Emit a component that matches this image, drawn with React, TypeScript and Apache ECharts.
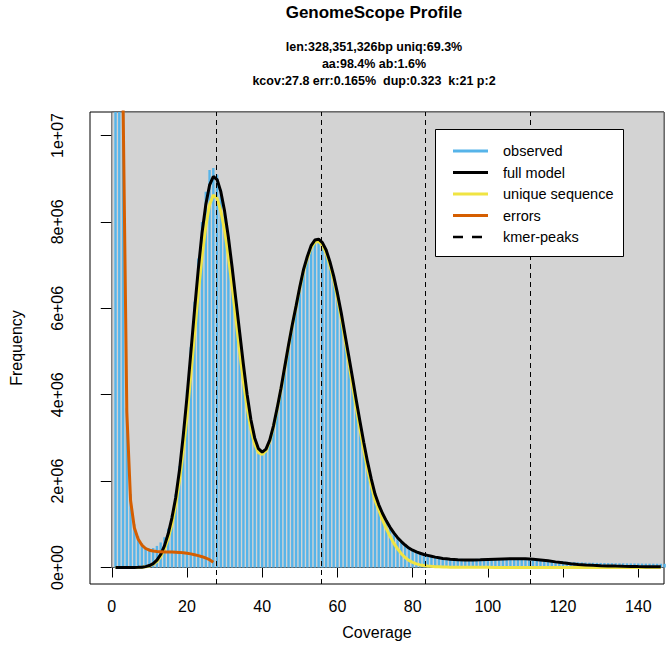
import React, { useEffect, useRef } from "react";
import * as echarts from "echarts";

const FONT = "'Liberation Sans', Arial, Helvetica, sans-serif";

// Axis ranges (data units) of the plot region
const X_MIN = -5.79;
const X_MAX = 146.84;
const Y_MIN = -381944;
const Y_MAX = 10543981;

const xTickValues = [0, 20, 40, 60, 80, 100, 120, 140];
const yTickValues = [0, 2000000, 4000000, 6000000, 8000000, 10000000];

const titleText = "GenomeScope Profile";
const subtitleLines = [
  "len:328,351,326bp uniq:69.3%",
  "aa:98.4% ab:1.6%",
  "kcov:27.8 err:0.165%  dup:0.323  k:21 p:2",
];

const legendLabels = ["observed", "full model", "unique sequence", "errors", "kmer-peaks"];
const legendColors = ["#56B4E9", "#000000", "#F0E442", "#D55E00", "#000000"];

// Observed k-mer histogram, coverage 1..147, frequency in millions
const observedFrequencyMillions = [
  200, 40, 11, 3.7, 1.7, 1.0, 0.72, 0.56, 0.47, 0.44,
  0.45, 0.5, 0.58, 0.7, 0.9, 1.22, 1.7, 2.35, 3.15, 4.1,
  5.1, 6.15, 7.15, 8.0, 8.7, 9.2, 9.25, 9.1, 8.75, 8.25,
  7.6, 6.9, 6.1, 5.35, 4.6, 3.95, 3.38, 2.98, 2.74, 2.66,
  2.72, 2.94, 3.27, 3.68, 4.14, 4.63, 5.12, 5.6, 6.04, 6.48,
  6.87, 7.18, 7.42, 7.55, 7.56, 7.48, 7.3, 7.04, 6.7, 6.3,
  5.86, 5.37, 4.86, 4.35, 3.84, 3.34, 2.86, 2.42, 2.02, 1.68,
  1.42, 1.22, 1.05, 0.9, 0.78, 0.68, 0.59, 0.52, 0.46, 0.41,
  0.37, 0.34, 0.31, 0.29, 0.27, 0.25, 0.235, 0.225, 0.215, 0.21,
  0.205, 0.2, 0.2, 0.195, 0.195, 0.195, 0.2, 0.2, 0.2, 0.205,
  0.205, 0.21, 0.21, 0.21, 0.21, 0.21, 0.21, 0.205, 0.2, 0.2,
  0.195, 0.19, 0.185, 0.178, 0.17, 0.163, 0.156, 0.15, 0.144, 0.138,
  0.133, 0.128, 0.124, 0.12, 0.117, 0.114, 0.111, 0.109, 0.107, 0.105,
  0.103, 0.101, 0.1, 0.098, 0.097, 0.096, 0.095, 0.094, 0.093, 0.092,
  0.091, 0.09, 0.089, 0.088, 0.087, 0.086, 0.085,
];

// Model curves: coverage positions and values (millions)
const modelCoverage = [
  1, 2, 3, 4, 5, 6, 7, 8, 9, 10,
  11, 12, 13, 14, 15, 16, 17, 18, 19, 20,
  21, 22, 23, 24, 25, 26, 27, 28, 29, 30,
  31, 32, 33, 34, 35, 36, 37, 38, 39, 40,
  41, 42, 43, 44, 45, 46, 47, 48, 49, 50,
  51, 52, 53, 54, 55, 56, 57, 58, 59, 60,
  61, 62, 63, 64, 65, 66, 67, 68, 69, 70,
  71, 72, 73, 74, 75, 76, 77, 78, 79, 80,
  81, 82, 83, 84, 85, 86, 87, 88, 89, 90,
  92, 94, 96, 98, 100, 102, 104, 106, 108, 110,
  112, 114, 116, 118, 120, 122, 124, 126, 128, 130,
  132, 134, 136, 138, 140, 142, 144, 146,
];

const fullModelMillions = [
  0, 0, 0, 0, 0, 0, 0.003, 0.008, 0.02, 0.045,
  0.09, 0.17, 0.3, 0.5, 0.78, 1.15, 1.62, 2.25, 3.05, 3.95,
  4.95, 5.95, 6.9, 7.75, 8.4, 8.85, 9.05, 8.98, 8.7, 8.25,
  7.65, 6.95, 6.2, 5.45, 4.7, 4.0, 3.42, 3.0, 2.75, 2.67,
  2.74, 2.95, 3.28, 3.7, 4.15, 4.65, 5.15, 5.62, 6.05, 6.5,
  6.9, 7.2, 7.45, 7.58, 7.6, 7.52, 7.35, 7.08, 6.75, 6.35,
  5.9, 5.4, 4.9, 4.4, 3.88, 3.38, 2.9, 2.45, 2.05, 1.7,
  1.45, 1.25, 1.08, 0.93, 0.8, 0.69, 0.6, 0.52, 0.45, 0.4,
  0.36, 0.33, 0.3, 0.28, 0.26, 0.24, 0.225, 0.21, 0.2, 0.19,
  0.18, 0.172, 0.172, 0.178, 0.185, 0.192, 0.198, 0.202, 0.203, 0.2,
  0.19, 0.175, 0.155, 0.13, 0.108, 0.088, 0.072, 0.06, 0.05, 0.043,
  0.037, 0.032, 0.028, 0.025, 0.022, 0.02, 0.018, 0.016,
];

const uniqueModelMillions = [
  0, 0, 0, 0, 0, 0, 0.002, 0.006, 0.015, 0.035,
  0.075, 0.14, 0.25, 0.42, 0.67, 1.0, 1.45, 2.0, 2.7, 3.5,
  4.45, 5.4, 6.35, 7.2, 7.9, 8.4, 8.62, 8.55, 8.25, 7.8,
  7.2, 6.5, 5.75, 5.0, 4.3, 3.7, 3.2, 2.85, 2.66, 2.62,
  2.7, 2.92, 3.25, 3.67, 4.12, 4.62, 5.12, 5.6, 6.03, 6.47,
  6.86, 7.16, 7.4, 7.53, 7.55, 7.46, 7.28, 7.0, 6.66, 6.25,
  5.78, 5.27, 4.75, 4.22, 3.7, 3.2, 2.72, 2.28, 1.9, 1.55,
  1.33, 1.1, 0.9, 0.72, 0.56, 0.43, 0.32, 0.23, 0.165, 0.12,
  0.085, 0.06, 0.045, 0.035, 0.027, 0.02, 0.016, 0.012, 0.01, 0.008,
  0.006, 0.005, 0.004, 0.003, 0.003, 0.002, 0.002, 0.002, 0.001, 0.001,
  0.001, 0.001, 0.001, 0, 0, 0, 0, 0, 0, 0,
  0, 0, 0, 0, 0, 0, 0, 0,
];

const errorCoverage = [
  1, 2, 3, 4, 5, 6, 7, 8, 9, 10,
  11, 12, 13, 14, 15, 16, 17, 18, 19, 20,
  21, 22, 23, 24, 25, 26, 27,
];
const errorModelMillions = [
  130, 36, 10.8, 3.6, 1.55, 0.92, 0.66, 0.52, 0.44, 0.4,
  0.38, 0.37, 0.365, 0.36, 0.36, 0.358, 0.355, 0.35, 0.34, 0.33,
  0.315, 0.295, 0.275, 0.25, 0.22, 0.18, 0.12,
];

const kmerPeaks = [27.8, 55.6, 83.4, 111.2];

function sciLabel(v: number): string {
  if (v === 0) return "0e+00";
  const e = Math.floor(Math.log10(v) + 1e-9);
  const m = Math.round(v / Math.pow(10, e));
  return `${m}e+${String(e).padStart(2, "0")}`;
}

export default function App() {
  const ref = useRef<HTMLDivElement>(null);

  useEffect(() => {
    if (!ref.current) return;
    const chart = echarts.init(ref.current, undefined, { renderer: "svg" });

    const M = 1e6;
    const observedData = observedFrequencyMillions.map((v, i) => [i + 1, v * M]);
    const fullData = modelCoverage.map((c, i) => [c, fullModelMillions[i] * M]);
    const uniqueData = modelCoverage.map((c, i) => [c, uniqueModelMillions[i] * M]);
    const errorData = errorCoverage.map((c, i) => [c, errorModelMillions[i] * M]);

    const legendTop = 129.5;
    const legendRowY = [151, 172.5, 194, 215.5, 237];

    const graphics: any[] = [
      {
        type: "text",
        x: 374,
        y: 12,
        style: {
          text: titleText,
          fill: "#000",
          font: `bold 17px ${FONT}`,
          textAlign: "center",
          textVerticalAlign: "middle",
        },
      },
      ...subtitleLines.map((t, i) => ({
        type: "text",
        x: 374,
        y: 47 + i * 16.8,
        style: {
          text: t,
          fill: "#000",
          font: `bold 12.5px ${FONT}`,
          textAlign: "center",
          textVerticalAlign: "middle",
        },
      })),
      {
        type: "rect",
        z: 100,
        shape: { x: 435.5, y: legendTop, width: 188, height: 127 },
        style: { fill: "#fff", stroke: "#000", lineWidth: 1 },
      },
      ...legendLabels.map((lab, i) => ({
        type: "line",
        z: 101,
        shape: { x1: 453, y1: legendRowY[i], x2: 488, y2: legendRowY[i] },
        style: {
          stroke: legendColors[i],
          lineWidth: i === 4 ? 2.5 : 3,
          lineDash: i === 4 ? [10, 9] : null,
        },
      })),
      ...legendLabels.map((lab, i) => ({
        type: "text",
        z: 101,
        x: 503,
        y: legendRowY[i],
        style: {
          text: lab,
          fill: "#000",
          font: `14.5px ${FONT}`,
          textAlign: "left",
          textVerticalAlign: "middle",
        },
      })),
    ];

    const option: any = {
      animation: false,
      backgroundColor: "#fff",
      textStyle: { fontFamily: FONT },
      grid: {
        left: 84,
        top: 112,
        width: 580,
        height: 472,
        show: true,
        borderColor: "#000",
        borderWidth: 1,
        backgroundColor: "transparent",
        containLabel: false,
      },
      xAxis: {
        type: "value",
        min: X_MIN,
        max: X_MAX,
        name: "Coverage",
        nameLocation: "middle",
        nameGap: 40,
        nameTextStyle: { fontSize: 16, color: "#000", fontFamily: FONT },
        axisLine: { show: false },
        axisTick: {
          show: true,
          length: 10,
          customValues: xTickValues,
          lineStyle: { color: "#000", width: 1 },
        },
        axisLabel: {
          customValues: xTickValues,
          margin: 14,
          fontSize: 16,
          color: "#000",
          fontFamily: FONT,
        },
        splitLine: { show: false },
      },
      yAxis: {
        type: "value",
        min: Y_MIN,
        max: Y_MAX,
        name: "Frequency",
        nameLocation: "middle",
        nameGap: 66,
        nameRotate: 90,
        nameTextStyle: { fontSize: 16, color: "#000", fontFamily: FONT },
        axisLine: { show: false },
        axisTick: {
          show: true,
          length: 11,
          customValues: yTickValues,
          lineStyle: { color: "#000", width: 1 },
        },
        axisLabel: {
          customValues: yTickValues,
          rotate: 90,
          margin: 25,
          fontSize: 16,
          color: "#000",
          fontFamily: FONT,
          formatter: (v: number) => sciLabel(v),
        },
        splitLine: { show: false },
      },
      series: [
        {
          type: "line",
          name: "background",
          data: [[0, 0]],
          showSymbol: false,
          lineStyle: { opacity: 0 },
          silent: true,
          z: 1,
          markArea: {
            silent: true,
            itemStyle: { color: "#d3d3d3", borderColor: "#555", borderWidth: 1, opacity: 1 },
            data: [[{ coord: [0, 0] }, { coord: [X_MAX, Y_MAX] }]],
          },
        },
        {
          type: "bar",
          name: "observed",
          data: observedData,
          barWidth: 2.4,
          itemStyle: { color: "#56B4E9" },
          clip: true,
          silent: true,
          z: 2,
        },
        {
          type: "line",
          name: "kmer-peaks",
          data: [],
          silent: true,
          z: 3,
          markLine: {
            silent: true,
            symbol: ["none", "none"],
            label: { show: false },
            lineStyle: { color: "#000", width: 1, type: [5, 4] },
            data: kmerPeaks.map((x) => ({ xAxis: x })),
          },
        },
        {
          type: "line",
          name: "unique sequence",
          data: uniqueData,
          showSymbol: false,
          clip: true,
          lineStyle: { color: "#F0E442", width: 3 },
          itemStyle: { color: "#F0E442" },
          silent: true,
          z: 4,
        },
        {
          type: "line",
          name: "full model",
          data: fullData,
          showSymbol: false,
          clip: true,
          lineStyle: { color: "#000", width: 3 },
          itemStyle: { color: "#000" },
          silent: true,
          z: 5,
        },
        {
          type: "line",
          name: "errors",
          data: errorData,
          showSymbol: false,
          clip: true,
          lineStyle: { color: "#D55E00", width: 3 },
          itemStyle: { color: "#D55E00" },
          silent: true,
          z: 6,
        },
      ],
      graphic: graphics,
    };

    chart.setOption(option);
    return () => {
      chart.dispose();
    };
  }, []);

  return (
    <div
      ref={ref}
      style={{ position: "fixed", left: 0, top: 0, width: 666, height: 672, background: "#fff" }}
    />
  );
}
